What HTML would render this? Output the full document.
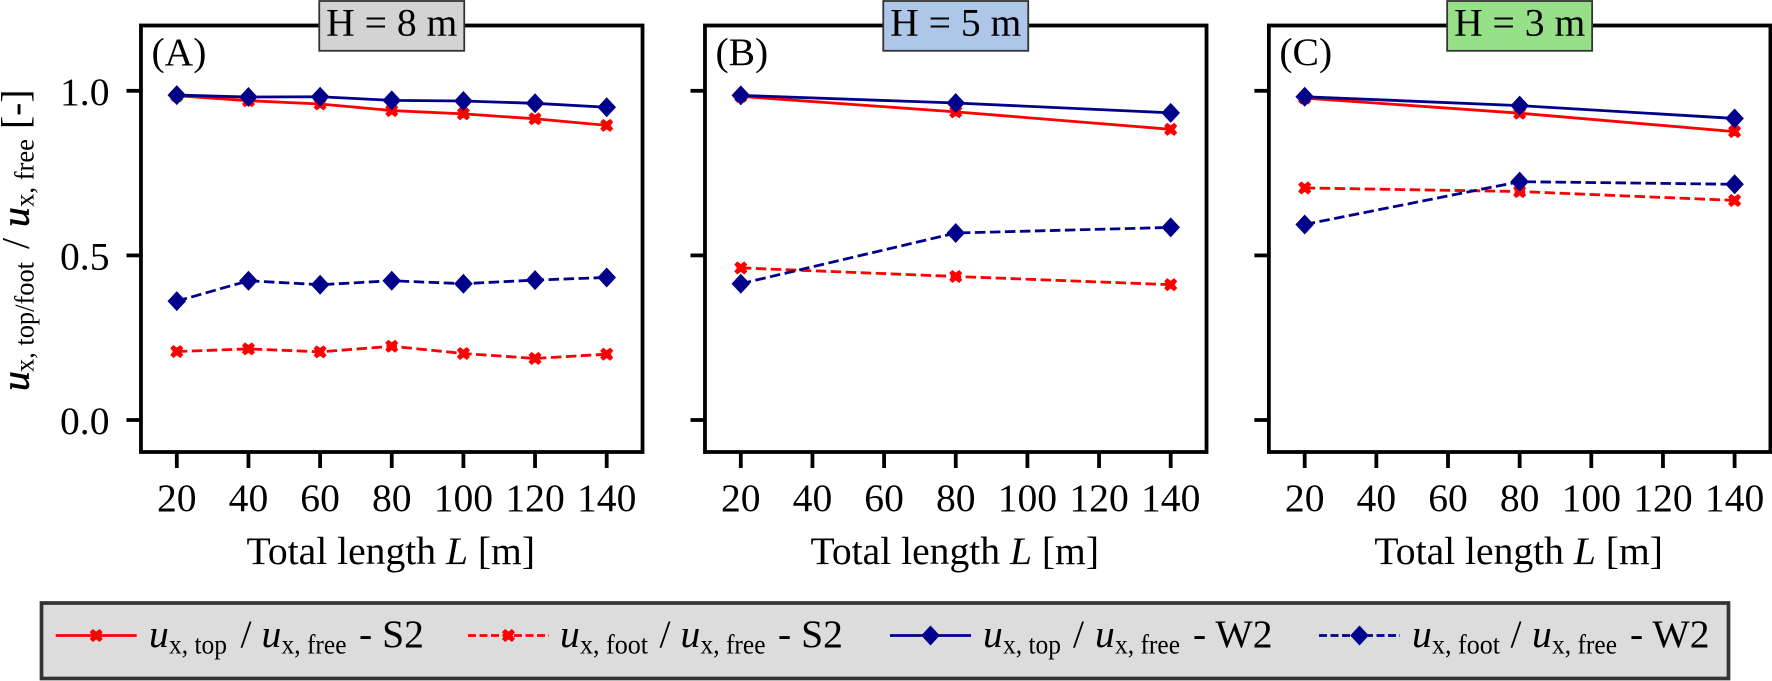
<!DOCTYPE html>
<html lang="en">
<head>
<meta charset="utf-8">
<title>Displacement ratio chart</title>
<style>
html,body{margin:0;padding:0;background:#fff;width:1772px;height:681px;overflow:hidden}
svg{display:block;font-family:"Liberation Serif",serif;fill:#000}
text{font-size:39.6px}
.sub{font-size:27px}
</style>
</head>
<body>
<svg id="chart" xmlns="http://www.w3.org/2000/svg" width="1772" height="681" viewBox="0 0 1772 681">
<g id="plots"></g>

<g transform="translate(28.5,392) rotate(-90)">
  <text x="1" y="0" font-style="italic" stroke="#000" stroke-width="0.7">u</text>
  <text class="sub" x="20" y="5" textLength="110" lengthAdjust="spacingAndGlyphs">x, top/foot</text>
  <text x="143" y="0">/</text>
  <text x="165" y="0" font-style="italic" stroke="#000" stroke-width="0.7">u</text>
  <text class="sub" x="185" y="5" textLength="68" lengthAdjust="spacingAndGlyphs">x, free</text>
  <text x="263" y="0">[-]</text>
</g>

<g>
  <rect x="41.5" y="603" width="1687" height="75.5" fill="#dcdcdc" stroke="#333" stroke-width="3.7"/>
  <g id="legend-keys"></g>

  <g>
    <text x="149" y="647" font-style="italic">u</text>
    <text class="sub" x="169" y="653.5" textLength="58" lengthAdjust="spacingAndGlyphs">x, top</text>
    <text x="240.5" y="647">/</text>
    <text x="261.5" y="647" font-style="italic">u</text>
    <text class="sub" x="281.5" y="653.5" textLength="65" lengthAdjust="spacingAndGlyphs">x, free</text>
    <text x="359" y="647">- S2</text>
  </g>
  <g>
    <text x="560" y="647" font-style="italic">u</text>
    <text class="sub" x="580" y="653.5" textLength="68" lengthAdjust="spacingAndGlyphs">x, foot</text>
    <text x="659.5" y="647">/</text>
    <text x="680.5" y="647" font-style="italic">u</text>
    <text class="sub" x="700.5" y="653.5" textLength="65" lengthAdjust="spacingAndGlyphs">x, free</text>
    <text x="778" y="647">- S2</text>
  </g>
  <g>
    <text x="983" y="647" font-style="italic">u</text>
    <text class="sub" x="1003" y="653.5" textLength="58" lengthAdjust="spacingAndGlyphs">x, top</text>
    <text x="1073" y="647">/</text>
    <text x="1095" y="647" font-style="italic">u</text>
    <text class="sub" x="1115" y="653.5" textLength="65" lengthAdjust="spacingAndGlyphs">x, free</text>
    <text x="1193" y="647">- W2</text>
  </g>
  <g>
    <text x="1412" y="647" font-style="italic">u</text>
    <text class="sub" x="1432" y="653.5" textLength="68" lengthAdjust="spacingAndGlyphs">x, foot</text>
    <text x="1510.5" y="647">/</text>
    <text x="1532" y="647" font-style="italic">u</text>
    <text class="sub" x="1552" y="653.5" textLength="65" lengthAdjust="spacingAndGlyphs">x, free</text>
    <text x="1630" y="647">- W2</text>
  </g>
</g>
</svg>
<script>
// Categories and tick labels
const lengthsA = [20, 40, 60, 80, 100, 120, 140];
const lengthsB = [20, 80, 140];
const lengthsC = [20, 80, 140];
const xTicks = [20, 40, 60, 80, 100, 120, 140];
const yTicks = [0.0, 0.5, 1.0];

// Panel A, H = 8 m
const topS2A = [0.985, 0.970, 0.960, 0.940, 0.930, 0.915, 0.895];
const footS2A = [0.208, 0.216, 0.207, 0.224, 0.202, 0.187, 0.200];
const topW2A = [0.987, 0.981, 0.982, 0.971, 0.969, 0.962, 0.950];
const footW2A = [0.361, 0.423, 0.411, 0.423, 0.414, 0.425, 0.433];

// Panel B, H = 5 m
const topS2B = [0.983, 0.936, 0.883];
const footS2B = [0.462, 0.436, 0.411];
const topW2B = [0.986, 0.963, 0.933];
const footW2B = [0.414, 0.568, 0.585];

// Panel C, H = 3 m
const topS2C = [0.978, 0.932, 0.876];
const footS2C = [0.705, 0.694, 0.667];
const topW2C = [0.982, 0.955, 0.916];
const footW2C = [0.594, 0.724, 0.716];

const NS = 'http://www.w3.org/2000/svg';
const RED = '#ff0000';
const BLUE = '#00008b';
const DASH = '10.5 4.5';
const AX_TOP = 25.5, AX_BOTTOM = 452;
const yScale = v => 420 - 329.2 * v;

function make(tag, attrs, parent) {
  const n = document.createElementNS(NS, tag);
  for (const k in attrs) n.setAttribute(k, attrs[k]);
  parent.appendChild(n);
  return n;
}
function diamondPath(cx, cy) {
  const rx = 9.3, ry = 10;
  return 'M' + cx + ' ' + (cy - ry) + 'L' + (cx + rx) + ' ' + cy + 'L' + cx + ' ' + (cy + ry) + 'L' + (cx - rx) + ' ' + cy + 'Z';
}
function crossPath(cx, cy) {
  const a = 6, b = 2.6;
  const pts = [[-a,-a+b],[-a+b,-a],[0,-a+b],[a-b,-a],[a,-a+b],[a-b,0],[a,a-b],[a-b,a],[0,a-b],[-a+b,a],[-a,a-b],[-a+b,0]];
  return 'M' + pts.map(p => (cx + p[0]) + ' ' + (cy + p[1])).join('L') + 'Z';
}
function drawMarker(kind, cx, cy, parent) {
  if (kind === 'x') {
    return make('path', {d: crossPath(cx, cy), fill: RED, stroke: RED, 'stroke-width': 0.8}, parent);
  }
  return make('path', {d: diamondPath(cx, cy), fill: BLUE}, parent);
}
function drawSeries(seriesName, xs, ys, xScale, color, dashed, kind, parent) {
  const group = make('g', {}, parent);
  
  
  const line = make('polyline', {
    points: xs.map((x, i) => xScale(x) + ',' + yScale(ys[i])).join(' '),
    fill: 'none', stroke: color, 'stroke-width': 2.8
  }, group);
  
  
  if (dashed) line.setAttribute('stroke-dasharray', DASH);
  xs.forEach((x, i) => {
    const m = drawMarker(kind, xScale(x), yScale(ys[i]), group);
    
    
  });
}
function drawPanel(cfg) {
  const root = document.getElementById('plots');
  const g = make('g', {}, root);
  
  
  const xScale = v => cfg.x20 + (v - 20) * 3.5825;
  const left = xScale(10), right = xScale(150);

  // x ticks and labels
  xTicks.forEach(t => {
    const tick = make('line', {x1: xScale(t), x2: xScale(t), y1: AX_BOTTOM, y2: 468, stroke: '#000', 'stroke-width': 3.8}, g);
    
    
    const lab = make('text', {x: xScale(t), y: 511, 'text-anchor': 'middle'}, g);
    
    
    lab.textContent = String(t);
  });
  // y ticks and labels
  yTicks.forEach(t => {
    const tick = make('line', {x1: left - 14.5, x2: left, y1: yScale(t), y2: yScale(t), stroke: '#000', 'stroke-width': 3.8}, g);
    
    
    if (cfg.showY) {
      const lab = make('text', {x: 109.5, y: yScale(t) + 14, 'text-anchor': 'end'}, g);
      
      
      lab.textContent = t.toFixed(1);
    }
  });

  // series
  drawSeries('series-top-s2', cfg.xs, cfg.topS2, xScale, RED, false, 'x', g);
  drawSeries('series-foot-s2', cfg.xs, cfg.footS2, xScale, RED, true, 'x', g);
  drawSeries('series-top-w2', cfg.xs, cfg.topW2, xScale, BLUE, false, 'd', g);
  drawSeries('series-foot-w2', cfg.xs, cfg.footW2, xScale, BLUE, true, 'd', g);

  // frame
  const frame = make('rect', {x: left, y: AX_TOP, width: right - left, height: AX_BOTTOM - AX_TOP, fill: 'none', stroke: '#000', 'stroke-width': 3.8}, g);
  
  

  // panel letter
  const letter = make('text', {x: left + 10.5, y: 65}, g);
  
  
  letter.textContent = cfg.letter;

  // title badge
  const cx = (left + right) / 2;
  const box = make('rect', {x: cx - 72.5, y: 1, width: 145, height: 49.8, fill: cfg.fill, stroke: '#333', 'stroke-width': 1.8}, g);
  
  
  const title = make('text', {x: cx, y: 35.5, 'text-anchor': 'middle'}, g);
  
  
  title.textContent = cfg.title;

  // x-axis title
  const xt = make('text', {x: (left + right) / 2 - 1, y: 564, 'text-anchor': 'middle'}, g);
  
  
  xt.appendChild(document.createTextNode('Total length '));
  const em = make('tspan', {'font-style': 'italic'}, xt);
  em.textContent = 'L';
  xt.appendChild(document.createTextNode(' [m]'));
}

drawPanel({id: 'a', letter: '(A)', title: 'H = 8 m', fill: '#d3d3d3', x20: 176.8, showY: true,
  xs: lengthsA, topS2: topS2A, footS2: footS2A, topW2: topW2A, footW2: footW2A});
drawPanel({id: 'b', letter: '(B)', title: 'H = 5 m', fill: '#aec7e8', x20: 740.8, showY: false,
  xs: lengthsB, topS2: topS2B, footS2: footS2B, topW2: topW2B, footW2: footW2B});
drawPanel({id: 'c', letter: '(C)', title: 'H = 3 m', fill: '#98df8a', x20: 1304.7, showY: false,
  xs: lengthsC, topS2: topS2C, footS2: footS2C, topW2: topW2C, footW2: footW2C});

// Legend keys
const legendColors = [RED, RED, BLUE, BLUE];
const legendDashed = [false, true, false, true];
const legendKinds = ['x', 'x', 'd', 'd'];
const legendStarts = [55.7, 468, 890, 1319];
const keysRoot = document.getElementById('legend-keys');
legendColors.forEach((c, i) => {
  const x0 = legendStarts[i], x1 = x0 + 81;
  const line = make('line', {x1: x0, x2: x1, y1: 635.5, y2: 635.5, stroke: c, 'stroke-width': 2.7}, keysRoot);
  
  
  if (legendDashed[i]) line.setAttribute('stroke-dasharray', '8 3.5');
  const m = drawMarker(legendKinds[i], (x0 + x1) / 2, 635.5, keysRoot);
  
  
});
</script>
</body>
</html>
